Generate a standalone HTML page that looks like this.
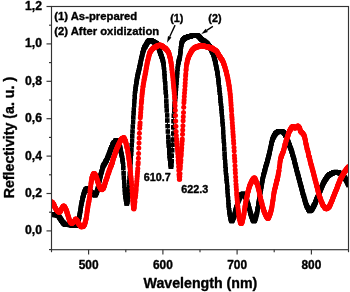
<!DOCTYPE html>
<html lang="en"><head><meta charset="utf-8"><title>Reflectivity spectra</title>
<style>html,body{margin:0;padding:0;background:#fff}body{width:350px;height:292px;overflow:hidden}svg{display:block;will-change:transform;filter:blur(0.38px)}</style></head>
<body>
<svg width="350" height="292" viewBox="0 0 350 292">
<defs>
<marker id="sq" markerWidth="5" markerHeight="5" refX="2.5" refY="2.5" markerUnits="userSpaceOnUse"><rect x="0.2" y="0.2" width="4.6" height="4.6" fill="#000"/></marker>
<marker id="ci" markerWidth="6" markerHeight="6" refX="3" refY="3" markerUnits="userSpaceOnUse"><circle cx="3" cy="3" r="2.5" fill="#f00"/></marker>
<clipPath id="plot"><rect x="52" y="7" width="296.5" height="242.5"/></clipPath>
</defs>
<rect width="350" height="292" fill="#fff"/>
<g clip-path="url(#plot)" fill="none" stroke-linejoin="round">
<polyline stroke="#000" stroke-width="1" marker-start="url(#sq)" marker-mid="url(#sq)" marker-end="url(#sq)" points="51.5,214.7 51.8,214.8 52,214.7 52.3,214.5 52.6,214.6 52.9,214.5 53.1,214.8 53.4,215 53.7,214.7 53.9,214.7 54.2,214.9 54.5,214.9 54.7,214.9 55,214.7 55.3,214.9 55.6,215.1 55.8,214.8 56.1,215 56.4,214.7 56.6,214.9 56.9,214.9 57.2,215.2 57.4,215.1 57.7,215.4 58,215.6 58.3,215.8 58.5,215.7 58.8,216.4 59.1,216.9 59.3,217.3 59.6,217.5 59.9,218 60.1,218.3 60.4,218.7 60.7,219.5 61,219.5 61.2,220.1 61.5,220.7 61.8,220.8 62,221.3 62.3,221.7 62.6,222 62.8,222.1 63.1,222.6 63.4,223.2 63.7,222.9 63.9,223.7 64.2,223.8 64.5,223.9 64.7,224.5 65,224.4 65.3,224.1 65.5,224.4 65.8,224.5 66.1,224.4 66.4,224.6 66.6,224.5 66.9,224.7 67.2,224.9 67.4,224.5 67.7,224.7 68,224.6 68.2,224.7 68.5,224.5 68.8,224.6 69.1,224.7 69.3,224.9 69.6,225 69.9,224.6 70.1,224.7 70.4,225 70.7,224.6 70.9,224.9 71.2,225 71.5,225.3 71.8,225.3 72,225.2 72.3,225.3 72.6,225.4 72.8,225.8 73.1,225.5 73.4,225.6 73.6,225.8 73.9,225.7 74.2,225.8 74.5,225.6 74.7,225.8 75,225.7 75.3,225.9 75.5,225.7 75.8,225.5 76.1,225.5 76.3,225.2 76.6,225.3 76.9,224.8 77.2,224.4 77.4,223.4 77.7,222.9 78,221.8 78.2,220.9 78.5,220.2 78.8,218.9 79,217.8 79.3,216.8 79.6,214.9 79.9,213.5 80.1,212.2 80.4,210.6 80.7,208.7 80.9,206.9 81.2,205.4 81.5,203.8 81.7,202.1 82,201 82.3,199.8 82.6,198.4 82.8,197.5 83.1,196.2 83.4,195.6 83.6,194.6 83.9,193.8 84.2,192.8 84.4,192.1 84.7,191.1 85,190.6 85.3,190.4 85.5,189.6 85.8,189.8 86.1,189.1 86.3,189.3 86.6,188.8 86.9,188.9 87.1,188.7 87.4,188.4 87.7,189 88,189.2 88.2,189.2 88.5,189.4 88.8,189.7 89,189.9 89.3,190.5 89.6,190.5 89.8,190.8 90.1,191 90.4,191.3 90.7,191.4 90.9,192.2 91.2,192.2 91.5,192.7 91.7,192.8 92,192.9 92.3,193.2 92.5,193.4 92.8,193.7 93.1,193.9 93.4,194.1 93.6,194.1 93.9,194.4 94.2,195.1 94.4,194.8 94.7,194.8 95,195.1 95.2,195.2 95.5,194.4 95.8,194.3 96.1,193.7 96.3,192.9 96.6,192.7 96.9,191.8 97.1,191.1 97.4,190.2 97.7,189.5 97.9,188.2 98.2,187 98.5,185.3 98.8,183.8 99,182.7 99.3,180.9 99.6,179.8 99.8,178.5 100.1,177.3 100.4,176.2 100.6,175.3 100.9,174 101.2,173 101.5,172 101.7,171.2 102,170.1 102.3,169 102.5,167.9 102.8,166.9 103.1,166.5 103.3,165.9 103.6,165.2 103.9,164.8 104.2,164.4 104.4,164 104.7,163.5 105,162.8 105.2,162.7 105.5,161.7 105.8,161.6 106,161 106.3,160.6 106.6,160.3 106.9,159.7 107.1,158.7 107.4,158 107.7,157.8 107.9,156.8 108.2,156.3 108.5,155.7 108.7,154.6 109,153.7 109.3,153.4 109.6,152.6 109.8,151.8 110.1,151.1 110.4,150.3 110.6,149.5 110.9,149.1 111.2,148.2 111.4,147.4 111.7,147.1 112,146.3 112.3,145.7 112.5,144.8 112.8,144.3 113.1,143.7 113.3,143.2 113.6,143 113.9,142.5 114.1,142.4 114.4,142 114.7,142 115,141.1 115.2,141.3 115.5,140.8 115.8,140.6 116,140.2 116.3,140.3 116.6,140.4 116.8,140.3 117.1,140.5 117.4,140.7 117.7,141.3 117.9,141.6 118.2,141.8 118.5,142.6 118.7,143 119,143.4 119.3,144.6 119.5,145.8 119.8,146.6 120.1,147.5 120.4,148.8 120.6,150.5 120.9,151.6 121.2,152.9 121.4,154.2 121.7,155.5 122,157 122.2,158.5 122.5,160.1 122.8,161.9 123.1,164.6 123.3,168.1 123.6,173.2 123.9,177.6 124.1,181.8 124.4,185.7 124.7,189.2 124.9,192.9 125.2,195.3 125.5,197.1 125.8,199.3 126,201 126.3,201.8 126.6,203.3 126.8,203.5 127.1,203 127.4,201.7 127.6,200.1 127.9,198.1 128.2,196.2 128.5,193.6 128.7,190.2 129,186.5 129.3,182 129.5,178.1 129.8,173.8 130.1,170.3 130.3,166.1 130.6,162 130.9,158 131.2,153.9 131.4,149.7 131.7,145.2 132,140.6 132.2,136 132.5,131.5 132.8,126.6 133,122 133.3,117.5 133.6,113.2 133.9,109.5 134.1,105.2 134.4,101 134.7,97.1 134.9,93.6 135.2,91.1 135.5,88.9 135.7,86.6 136,84.8 136.3,83 136.6,81.5 136.8,79.6 137.1,78.3 137.4,76.8 137.6,75.8 137.9,74.2 138.2,73.1 138.4,72.1 138.7,70.6 139,69.3 139.3,68.3 139.5,67.1 139.8,65.7 140.1,64.7 140.3,63.8 140.6,62.1 140.9,60.8 141.1,59.4 141.4,58.3 141.7,56.8 142,55.6 142.2,54.9 142.5,53.3 142.8,52.6 143,51.7 143.3,50.6 143.6,49.8 143.8,49.3 144.1,48.3 144.4,47.6 144.7,47 144.9,46.8 145.2,46.6 145.5,46.1 145.7,45.3 146,44.8 146.3,44.4 146.5,44.1 146.8,43.5 147.1,43 147.4,42.6 147.6,42.1 147.9,41.8 148.2,41.5 148.4,41.1 148.7,40.9 149,40.9 149.2,40.6 149.5,40.5 149.8,40.2 150.1,40.6 150.3,40.2 150.6,40.3 150.9,40.8 151.1,40.8 151.4,40.7 151.7,40.5 151.9,40.9 152.2,41 152.5,41.4 152.8,41.8 153,41.6 153.3,41.6 153.6,41.7 153.8,42 154.1,42.1 154.4,42 154.6,42.4 154.9,42.3 155.2,42.8 155.5,42.9 155.7,43.1 156,43 156.3,43.3 156.5,43.4 156.8,43.6 157.1,44 157.3,44.3 157.6,44.8 157.9,45.9 158.2,46.4 158.4,47.2 158.7,48.2 159,48.5 159.2,49.5 159.5,50.5 159.8,51.4 160,52.1 160.3,53.1 160.6,53.7 160.9,54.2 161.1,54.9 161.4,56 161.7,56.7 161.9,57 162.2,58.5 162.5,59.3 162.7,60.5 163,61.4 163.3,62.8 163.6,64.3 163.8,67.2 164.1,69.6 164.4,73.2 164.6,76.3 164.9,80 165.2,83.4 165.4,87.7 165.7,92.3 166,96.4 166.3,101.4 166.5,105.8 166.8,110.4 167.1,115.4 167.3,120.5 167.6,126 167.9,131.5 168.1,136.8 168.4,141.5 168.7,145.5 169,149.2 169.2,152.8 169.5,156.1 169.8,158.5 170,161.4 170.3,163.4 170.6,165.1 170.8,166.9 171.1,166.7 171.4,165 171.7,161.1 171.9,155.7 172.2,150.2 172.5,144.7 172.7,139.6 173,133.5 173.3,127.3 173.5,121.2 173.8,115.8 174.1,111.1 174.4,106.9 174.6,103.9 174.9,101.2 175.2,99.3 175.4,96.4 175.7,93.2 176,88.9 176.2,85.4 176.5,82.7 176.8,79.7 177.1,75.7 177.3,72.1 177.6,68.8 177.9,66.1 178.1,64.5 178.4,62.8 178.7,61.6 178.9,60.7 179.2,59.4 179.5,58.5 179.8,57 180,55.4 180.3,53.3 180.6,51.3 180.8,48.3 181.1,46.4 181.4,44.7 181.6,43.3 181.9,42.3 182.2,41.9 182.5,40.7 182.7,40.1 183,39.8 183.3,39.4 183.5,39.5 183.8,39.2 184.1,38.7 184.3,38.4 184.6,38.4 184.9,38.6 185.2,37.6 185.4,38.1 185.7,37.6 186,37.9 186.2,37.4 186.5,37.4 186.8,37 187,37 187.3,37.3 187.6,37.1 187.9,36.8 188.1,36.6 188.4,36.4 188.7,36.6 188.9,36.5 189.2,36.5 189.5,36.4 189.7,36.1 190,36.3 190.3,36.2 190.6,36.4 190.8,36.4 191.1,36 191.4,35.8 191.6,35.9 191.9,35.8 192.2,35.7 192.4,35.8 192.7,35.6 193,35.9 193.3,35.7 193.5,35.8 193.8,35.7 194.1,35.6 194.3,35.5 194.6,35.6 194.9,35.6 195.1,35.7 195.4,35.6 195.7,35.4 196,35.6 196.2,35.4 196.5,35.5 196.8,35.5 197,35.2 197.3,35.6 197.6,35.7 197.8,35.8 198.1,35.9 198.4,36.1 198.7,36.2 198.9,36.6 199.2,36.8 199.5,37.3 199.7,37.3 200,37.9 200.3,38.2 200.5,38.4 200.8,38.7 201.1,39.1 201.4,39 201.6,39.6 201.9,39.7 202.2,39.9 202.4,40.2 202.7,40.2 203,40.4 203.2,40.8 203.5,40.9 203.8,41.1 204.1,40.9 204.3,41.5 204.6,41.8 204.9,41.9 205.1,42 205.4,41.9 205.7,42.5 205.9,42.5 206.2,42.3 206.5,43.1 206.8,43 207,43.3 207.3,43.6 207.6,44.3 207.8,44.3 208.1,44.7 208.4,45.3 208.6,45.6 208.9,45.6 209.2,46 209.5,46.2 209.7,46.7 210,47.4 210.3,47.8 210.5,48.3 210.8,48.9 211.1,49.1 211.3,49.8 211.6,50.5 211.9,51.1 212.2,51.8 212.4,52.3 212.7,52.8 213,53.6 213.2,54.1 213.5,54.8 213.8,56.1 214,56.9 214.3,58 214.6,58.7 214.9,60 215.1,61.1 215.4,62.3 215.7,63.3 215.9,64.9 216.2,66.5 216.5,67.7 216.7,69 217,70.7 217.3,72.5 217.6,73.6 217.8,75.9 218.1,77.9 218.4,79.9 218.6,82.2 218.9,84.5 219.2,87.1 219.4,89.9 219.7,92.8 220,95.3 220.3,98 220.5,100.7 220.8,103.5 221.1,105.7 221.3,108.4 221.6,111.2 221.9,114.4 222.1,117.4 222.4,121.2 222.7,124.5 223,128.6 223.2,132.6 223.5,136.9 223.8,141 224,144.6 224.3,149.1 224.6,153.7 224.8,157.8 225.1,161.7 225.4,165.8 225.7,169.2 225.9,172.4 226.2,175.3 226.5,178.5 226.7,181.3 227,184.7 227.3,187.6 227.5,191.2 227.8,195.1 228.1,198.5 228.4,202.2 228.6,205.3 228.9,207.7 229.2,210.3 229.4,212.4 229.7,214.5 230,215.9 230.2,217.1 230.5,218.3 230.8,219.4 231.1,220.2 231.3,220.4 231.6,220.8 231.9,221.2 232.1,220.7 232.4,220.2 232.7,219.9 232.9,219.4 233.2,218.5 233.5,217.7 233.8,217.1 234,216.7 234.3,215.5 234.6,214.6 234.8,213.6 235.1,212.5 235.4,211.3 235.6,210.4 235.9,209.1 236.2,208.3 236.5,207.3 236.7,206.7 237,205.5 237.3,204.4 237.5,203.6 237.8,202.7 238.1,201.9 238.3,200.7 238.6,200 238.9,199.3 239.2,199.2 239.4,198.3 239.7,197.6 240,197.2 240.2,196.9 240.5,196 240.8,195.5 241,195.3 241.3,194.8 241.6,194.5 241.9,194 242.1,194.3 242.4,194.1 242.7,193.9 242.9,194 243.2,193.7 243.5,194.4 243.7,194.5 244,194.9 244.3,195.3 244.6,195.5 244.8,195.6 245.1,196.4 245.4,196.6 245.6,197.2 245.9,197.7 246.2,198.3 246.4,198.7 246.7,200.2 247,200.9 247.3,201.9 247.5,203 247.8,203.6 248.1,204.2 248.3,205.3 248.6,206.1 248.9,207.2 249.1,208.3 249.4,208.9 249.7,210.4 250,211.1 250.2,212.5 250.5,213.4 250.8,214.3 251,215.2 251.3,215.9 251.6,216.6 251.8,217 252.1,217.9 252.4,218.9 252.7,219.5 252.9,220 253.2,220.3 253.5,220.5 253.7,221.1 254,221 254.3,220.9 254.5,220.6 254.8,220.2 255.1,219.4 255.4,218.7 255.6,217.6 255.9,216.7 256.2,216.2 256.4,214.7 256.7,213.7 257,212.6 257.2,211.2 257.5,209.4 257.8,208 258.1,206.5 258.3,204.7 258.6,202.9 258.9,201.5 259.1,199.5 259.4,198 259.7,196.4 259.9,195.1 260.2,192.9 260.5,191.5 260.8,189.9 261,188.5 261.3,186.8 261.6,185.4 261.8,183.3 262.1,182.2 262.4,180.6 262.6,179.1 262.9,178 263.2,176.5 263.5,175.1 263.7,174.3 264,173 264.3,172.1 264.5,171.2 264.8,170.2 265.1,169.5 265.3,168.2 265.6,167 265.9,166.2 266.2,165.2 266.4,164.2 266.7,163.6 267,162.4 267.2,161.2 267.5,160.6 267.8,159.4 268,158.5 268.3,157.4 268.6,156.5 268.9,155.3 269.1,154.4 269.4,153.2 269.7,152.1 269.9,150.9 270.2,149.3 270.5,148.2 270.7,146.8 271,145.5 271.3,143.9 271.6,143.2 271.8,141.9 272.1,140.8 272.4,139.9 272.6,139.3 272.9,138.6 273.2,137.8 273.4,137.3 273.7,136.6 274,136.3 274.3,135.5 274.5,135.1 274.8,134.9 275.1,134.7 275.3,133.7 275.6,133.5 275.9,133.2 276.1,133.2 276.4,132.7 276.7,132.6 277,132.5 277.2,132.2 277.5,132 277.8,131.9 278,131.5 278.3,131.5 278.6,131.5 278.8,131.5 279.1,131.4 279.4,131 279.7,131.2 279.9,131.4 280.2,131.3 280.5,131.2 280.7,131.1 281,131.4 281.3,131.2 281.5,131.2 281.8,131.3 282.1,131.8 282.4,131.7 282.6,132 282.9,131.8 283.2,132.2 283.4,132.1 283.7,132.3 284,133.1 284.2,133.1 284.5,133.3 284.8,133.8 285.1,134.4 285.3,135.2 285.6,135.5 285.9,135.9 286.1,136.9 286.4,137.6 286.7,138.3 286.9,139.1 287.2,139.5 287.5,140.2 287.8,140.5 288,141.6 288.3,142.4 288.6,142.9 288.8,143.5 289.1,144.2 289.4,145.2 289.6,145.4 289.9,146.3 290.2,147.2 290.5,148 290.7,148.6 291,149.5 291.3,150.2 291.5,151.1 291.8,151.9 292.1,152.6 292.3,153.7 292.6,154.8 292.9,155.4 293.2,156.5 293.4,157.6 293.7,158.3 294,159.5 294.2,160.3 294.5,161.7 294.8,163 295,164 295.3,164.6 295.6,165.8 295.9,166.8 296.1,167.8 296.4,169.1 296.7,169.7 296.9,171.1 297.2,172 297.5,173.3 297.7,174.1 298,174.9 298.3,176.1 298.6,177.2 298.8,178.1 299.1,179.2 299.4,180.1 299.6,180.8 299.9,182.4 300.2,183.4 300.4,184.4 300.7,185.4 301,186.6 301.3,187.4 301.5,188.3 301.8,189.4 302.1,190.7 302.3,191.2 302.6,192.7 302.9,193.3 303.1,194.2 303.4,195.5 303.7,196.2 304,196.9 304.2,198 304.5,199.2 304.8,200.2 305,200.8 305.3,201.9 305.6,202.8 305.8,203.4 306.1,204.4 306.4,205.1 306.7,205.7 306.9,206.3 307.2,206.9 307.5,207.4 307.7,207.8 308,208.4 308.3,209.1 308.5,209.4 308.8,209.9 309.1,210.4 309.4,210.5 309.6,211.1 309.9,210.6 310.2,210.9 310.4,210.7 310.7,210.9 311,210.7 311.2,209.7 311.5,209.6 311.8,209.5 312.1,209.1 312.3,208.6 312.6,208 312.9,207.7 313.1,207.2 313.4,206.6 313.7,206.4 313.9,205.3 314.2,205.3 314.5,204.5 314.8,204.2 315,203.4 315.3,202.6 315.6,202.2 315.8,201.3 316.1,200.6 316.4,199.8 316.6,199.4 316.9,198.8 317.2,198.2 317.5,197.3 317.7,196.9 318,196.1 318.3,195.4 318.5,194.9 318.8,194.3 319.1,193.4 319.3,192.8 319.6,192.1 319.9,191.5 320.2,190.6 320.4,190.3 320.7,189.3 321,188.8 321.2,187.9 321.5,187.5 321.8,186.8 322,186 322.3,185.9 322.6,184.9 322.9,184.6 323.1,183.9 323.4,183 323.7,182.6 323.9,182.2 324.2,181.7 324.5,181.2 324.7,180.7 325,180 325.3,179.9 325.6,179.1 325.8,179.2 326.1,178.6 326.4,178.2 326.6,177.9 326.9,177.6 327.2,177 327.4,176.6 327.7,176.3 328,175.8 328.3,175.7 328.5,175.9 328.8,175.1 329.1,175.2 329.3,174.6 329.6,174.6 329.9,174.3 330.1,174.2 330.4,174.1 330.7,174.2 331,173.8 331.2,173.7 331.5,173.3 331.8,173.5 332,173.2 332.3,173.3 332.6,173 332.8,173.2 333.1,172.4 333.4,172.6 333.7,172.8 333.9,172.5 334.2,172.3 334.5,172.3 334.7,172.1 335,172.3 335.3,172.6 335.5,172.4 335.8,171.9 336.1,172 336.4,172 336.6,172.3 336.9,172 337.2,172 337.4,172.4 337.7,172.4 338,172.3 338.2,172.3 338.5,172.3 338.8,172.5 339.1,172.4 339.3,173.1 339.6,173 339.9,173.3 340.1,173.7 340.4,173.7 340.7,173.5 340.9,174 341.2,174.2 341.5,174.1 341.8,174.2 342,174.6 342.3,174.5 342.6,175.4 342.8,175 343.1,175.5 343.4,176 343.6,176.3 343.9,176.8 344.2,177.2 344.5,177.5 344.7,178.1 345,177.9 345.3,178.7 345.5,179 345.8,179.6 346.1,180.1 346.3,180.3 346.6,180.9 346.9,181.7 347.2,182.1 347.4,182.5 347.7,183.6 348,184.2 348.2,184.1 348.5,185.1"/>
<polyline stroke="#f00" stroke-width="1" marker-start="url(#ci)" marker-mid="url(#ci)" marker-end="url(#ci)" points="51.5,202.4 51.7,202 51.9,202.1 52.1,202.1 52.3,202.2 52.5,202.6 52.7,202.7 52.9,203.4 53.1,203.4 53.3,203.7 53.6,203.8 53.8,204.6 54,204.8 54.2,205.4 54.4,206.2 54.6,206.5 54.8,207 55,207.3 55.2,207.7 55.4,208 55.6,208.3 55.8,209 56,208.8 56.2,209.8 56.4,209.7 56.6,209.7 56.8,210 57,210.2 57.2,210.7 57.4,210.7 57.7,211.5 57.9,211.1 58.1,210.8 58.3,211.4 58.5,211.2 58.7,211.9 58.9,212.3 59.1,212.2 59.3,211.5 59.5,211.6 59.7,212.2 59.9,211.6 60.1,211.2 60.3,211.2 60.5,211.3 60.7,210.6 60.9,209.9 61.1,209.6 61.3,209.4 61.5,208.7 61.8,208.3 62,208.3 62.2,207.6 62.4,207.5 62.6,207.2 62.8,207.6 63,206.3 63.2,206.3 63.4,206.1 63.6,206.2 63.8,206.5 64,206.1 64.2,206.2 64.4,206.2 64.6,206.7 64.8,207.5 65,207.7 65.2,207.7 65.4,208.3 65.6,208.8 65.9,209.4 66.1,209.6 66.3,210.3 66.5,210.4 66.7,211.3 66.9,212.8 67.1,212.1 67.3,213.3 67.5,214.1 67.7,214.6 67.9,215.1 68.1,216 68.3,216.7 68.5,217.4 68.7,217.5 68.9,218.6 69.1,219 69.3,219.7 69.5,220.4 69.7,221 70,221.5 70.2,221.3 70.4,222.1 70.6,222.4 70.8,222.7 71,223 71.2,222.8 71.4,223 71.6,223.4 71.8,222.8 72,223.4 72.2,223.1 72.4,223.1 72.6,222.5 72.8,222.6 73,222.6 73.2,222.7 73.4,222.5 73.6,221.9 73.8,221.6 74.1,221.2 74.3,221.3 74.5,220.8 74.7,220.8 74.9,220.9 75.1,220 75.3,219.3 75.5,219.3 75.7,219 75.9,219.1 76.1,220 76.3,219.8 76.5,219.4 76.7,220.3 76.9,220.7 77.1,220.4 77.3,220.5 77.5,220.9 77.7,221.5 77.9,222.1 78.2,222.8 78.4,223.3 78.6,223.7 78.8,224.1 79,224.2 79.2,223.8 79.4,224.5 79.6,224.9 79.8,224.9 80,225.6 80.2,225.4 80.4,225.4 80.6,226.4 80.8,226.3 81,226.3 81.2,226.7 81.4,226.9 81.6,226.7 81.8,225.9 82,226.5 82.3,226.5 82.5,226.3 82.7,226.6 82.9,226.8 83.1,226.2 83.3,225.8 83.5,226.6 83.7,225.6 83.9,225.1 84.1,225.3 84.3,225.1 84.5,224.4 84.7,224.4 84.9,223.4 85.1,222.6 85.3,222.1 85.5,221.5 85.7,220.2 85.9,219.6 86.1,218.3 86.4,218 86.6,215.5 86.8,214.7 87,212.7 87.2,211.2 87.4,210 87.6,208.7 87.8,207.5 88,206 88.2,204.6 88.4,203.6 88.6,202.8 88.8,201.7 89,200.9 89.2,199.3 89.4,198.1 89.6,196.7 89.8,194.4 90,191.5 90.2,189.2 90.5,186.9 90.7,186.1 90.9,183.7 91.1,182.9 91.3,181.3 91.5,180.4 91.7,179.1 91.9,177.8 92.1,177.2 92.3,176.7 92.5,176.1 92.7,175.4 92.9,175.1 93.1,175.2 93.3,173.7 93.5,174.1 93.7,173.5 93.9,173.7 94.1,173.9 94.3,173.7 94.6,174.1 94.8,173.6 95,174.8 95.2,174.6 95.4,175.4 95.6,175.7 95.8,175.2 96,176.2 96.2,177 96.4,177.9 96.6,178.1 96.8,178.7 97,178.8 97.2,180.3 97.4,181.1 97.6,181.2 97.8,181.8 98,181.9 98.2,183.3 98.4,184.4 98.7,184.4 98.9,185.2 99.1,185.5 99.3,185.6 99.5,186.8 99.7,186.5 99.9,187.2 100.1,187.7 100.3,188.3 100.5,188.5 100.7,188.8 100.9,188.8 101.1,188.9 101.3,189.6 101.5,189.5 101.7,189.4 101.9,189.5 102.1,189.7 102.3,189.1 102.5,189 102.8,188.6 103,188.8 103.2,188.5 103.4,188.5 103.6,187 103.8,186.8 104,186.9 104.2,186 104.4,185.4 104.6,185.5 104.8,184.2 105,183.2 105.2,182.5 105.4,182.4 105.6,181.7 105.8,180.6 106,180.1 106.2,179.9 106.4,179.3 106.6,178.3 106.9,178.1 107.1,177.4 107.3,176 107.5,175.9 107.7,175.5 107.9,174.5 108.1,173.4 108.3,173.3 108.5,173 108.7,172.7 108.9,170.9 109.1,171.8 109.3,170 109.5,170.1 109.7,169.6 109.9,168.9 110.1,168.1 110.3,167.1 110.5,167.2 110.7,166.2 111,165.1 111.2,166.2 111.4,165 111.6,164.8 111.8,163.4 112,163.6 112.2,163 112.4,162.4 112.6,161.3 112.8,160.3 113,160 113.2,158.7 113.4,158.2 113.6,158.1 113.8,157.1 114,156.7 114.2,156 114.4,156 114.6,155.2 114.8,154.1 115.1,154 115.3,152.7 115.5,152.3 115.7,152.1 115.9,150.9 116.1,150.6 116.3,149.8 116.5,149.7 116.7,149.6 116.9,148.3 117.1,148.1 117.3,147.2 117.5,146.6 117.7,146.1 117.9,146.5 118.1,146.3 118.3,145.2 118.5,144.4 118.7,144.4 118.9,143.6 119.2,143.6 119.4,143 119.6,142.6 119.8,142.3 120,141.5 120.2,141.2 120.4,140.4 120.6,140.4 120.8,139.8 121,139.9 121.2,139.3 121.4,139.4 121.6,139.3 121.8,138.5 122,138.5 122.2,138.3 122.4,138.6 122.6,138.8 122.8,138.3 123,137.9 123.3,138.4 123.5,137.4 123.7,138.5 123.9,137.9 124.1,137.5 124.3,139.5 124.5,139.5 124.7,139.1 124.9,139.9 125.1,140.2 125.3,140.8 125.5,140.8 125.7,141.7 125.9,142.8 126.1,143.5 126.3,144.6 126.5,145.1 126.7,146.8 126.9,146.7 127.1,148.1 127.4,148.5 127.6,149.9 127.8,151.9 128,152.5 128.2,154.3 128.4,155.5 128.6,156.5 128.8,158.2 129,159.6 129.2,161.1 129.4,163.1 129.6,164.8 129.8,166.1 130,167.7 130.2,169.8 130.4,171.4 130.6,173.6 130.8,176 131,177.4 131.2,179.4 131.5,181.9 131.7,184.8 131.9,188.2 132.1,191.6 132.3,195 132.5,197.6 132.7,200.2 132.9,202.1 133.1,204.3 133.3,205.8 133.5,208.1 133.7,208.5 133.9,208.9 134.1,207.8 134.3,206.7 134.5,204.4 134.7,202.8 134.9,201.4 135.1,198.1 135.3,197.1 135.6,195.3 135.8,192.9 136,190.9 136.2,188.9 136.4,186 136.6,184 136.8,181.2 137,178.8 137.2,176.3 137.4,173.8 137.6,171.2 137.8,168.4 138,164.6 138.2,162.4 138.4,158.2 138.6,153.5 138.8,148.1 139,143 139.2,138.1 139.4,133.2 139.7,128.2 139.9,125.3 140.1,122.7 140.3,117.8 140.5,115.6 140.7,112.4 140.9,109.3 141.1,107 141.3,103.5 141.5,101.4 141.7,99.4 141.9,96.5 142.1,94.3 142.3,92.5 142.5,90.5 142.7,89.5 142.9,87.1 143.1,86.2 143.3,84.1 143.5,83.4 143.8,81.9 144,79.9 144.2,79.6 144.4,78.1 144.6,77.2 144.8,76.8 145,74.9 145.2,73.8 145.4,73.6 145.6,72 145.8,71.4 146,69.8 146.2,68.3 146.4,67.4 146.6,66.7 146.8,65.5 147,64.1 147.2,63 147.4,61.9 147.6,60.8 147.9,60.6 148.1,59.1 148.3,57.9 148.5,57.3 148.7,56.9 148.9,56.1 149.1,55.1 149.3,54.3 149.5,53.8 149.7,52.7 149.9,52.3 150.1,52.5 150.3,51.6 150.5,51.5 150.7,51.3 150.9,50.8 151.1,50.3 151.3,50.7 151.5,50 151.7,49.4 152,49.6 152.2,49.3 152.4,48.7 152.6,48.8 152.8,48.6 153,47.9 153.2,48.3 153.4,48.2 153.6,48 153.8,47.5 154,47.8 154.2,47.7 154.4,47.7 154.6,47.1 154.8,47.6 155,46.9 155.2,47.1 155.4,47.4 155.6,46.6 155.8,46.6 156.1,47 156.3,46.4 156.5,46.3 156.7,46.4 156.9,46.5 157.1,45.4 157.3,45.7 157.5,45.6 157.7,45.5 157.9,45.5 158.1,45.4 158.3,45.7 158.5,45.2 158.7,45.5 158.9,45.5 159.1,45.1 159.3,45.4 159.5,45.8 159.7,45.4 159.9,45.1 160.2,45.3 160.4,45.1 160.6,45.6 160.8,45.8 161,45.3 161.2,45.6 161.4,46.1 161.6,45.7 161.8,46 162,45.7 162.2,45.8 162.4,46 162.6,47 162.8,46.3 163,46.4 163.2,46.5 163.4,46.7 163.6,47.1 163.8,47.1 164,47.9 164.3,47.5 164.5,48.1 164.7,47.9 164.9,48.2 165.1,47.7 165.3,48.3 165.5,48.6 165.7,48.7 165.9,48.3 166.1,49.5 166.3,49.3 166.5,49.5 166.7,49.7 166.9,50 167.1,50.4 167.3,50.1 167.5,50.5 167.7,51.2 167.9,51.4 168.1,51.6 168.4,51.9 168.6,52.3 168.8,53.1 169,54.1 169.2,54 169.4,55.6 169.6,56.1 169.8,56.5 170,57.7 170.2,57.8 170.4,58.7 170.6,59.8 170.8,61.2 171,62.4 171.2,63.6 171.4,65.3 171.6,66.2 171.8,68.8 172,70 172.2,72.2 172.5,74.3 172.7,76.1 172.9,78.1 173.1,80.3 173.3,82.7 173.5,84.9 173.7,87 173.9,88.7 174.1,91 174.3,93.4 174.5,96.5 174.7,98.5 174.9,102.6 175.1,105.7 175.3,110.2 175.5,115.6 175.7,121.1 175.9,126.2 176.1,131.4 176.3,135.4 176.6,139.1 176.8,141.9 177,143.8 177.2,146.5 177.4,148.4 177.6,151 177.8,153.7 178,157 178.2,160.5 178.4,163 178.6,166.8 178.8,170.5 179,174.4 179.2,176.8 179.4,179.3 179.6,179.3 179.8,176.6 180,173.5 180.2,168.8 180.4,166.1 180.7,162.6 180.9,160 181.1,156 181.3,153.8 181.5,150.4 181.7,147.7 181.9,144.2 182.1,141.3 182.3,138.9 182.5,134.2 182.7,130 182.9,125.7 183.1,120.8 183.3,116.8 183.5,112.4 183.7,107.2 183.9,102.8 184.1,99.9 184.3,96.4 184.5,92.9 184.8,89.7 185,85.9 185.2,83 185.4,79.4 185.6,76.1 185.8,73.7 186,70.2 186.2,68.7 186.4,66.1 186.6,64.5 186.8,63.7 187,63 187.2,61.7 187.4,60.3 187.6,60 187.8,59.7 188,58.4 188.2,57.7 188.4,57.7 188.6,56.9 188.9,56 189.1,55.7 189.3,55.1 189.5,55 189.7,54.5 189.9,54.4 190.1,53.8 190.3,52.7 190.5,53 190.7,52.8 190.9,52.3 191.1,52.1 191.3,51.3 191.5,50.8 191.7,51.2 191.9,50.3 192.1,49.7 192.3,50.4 192.5,49.6 192.7,49.6 193,49 193.2,48.8 193.4,48.7 193.6,48.7 193.8,48.8 194,47.8 194.2,48.6 194.4,47.8 194.6,47.7 194.8,48.1 195,47.7 195.2,47.1 195.4,48.1 195.6,47.1 195.8,47.3 196,47.2 196.2,47.5 196.4,46.8 196.6,47.2 196.8,46.5 197.1,47 197.3,46.3 197.5,46.4 197.7,47 197.9,46.4 198.1,46.3 198.3,46.9 198.5,46.3 198.7,45.9 198.9,46.3 199.1,45.7 199.3,46.4 199.5,46.4 199.7,45.8 199.9,45.7 200.1,46 200.3,45.9 200.5,45.6 200.7,46 200.9,45.2 201.2,45.7 201.4,45.7 201.6,45.7 201.8,45.9 202,45.4 202.2,46 202.4,45.8 202.6,45.6 202.8,45.4 203,45.5 203.2,46 203.4,45.6 203.6,46 203.8,46.3 204,46.4 204.2,46.6 204.4,46 204.6,45.8 204.8,46.5 205,46.4 205.3,46.7 205.5,46.4 205.7,46.8 205.9,46.7 206.1,46.7 206.3,46.7 206.5,46.7 206.7,46.7 206.9,46.7 207.1,47 207.3,46.6 207.5,47.3 207.7,46.8 207.9,47.2 208.1,46.9 208.3,46.9 208.5,47.7 208.7,47 208.9,46.7 209.1,47 209.4,47.2 209.6,48 209.8,47.4 210,47.8 210.2,47.2 210.4,47.7 210.6,47.9 210.8,48.3 211,47.6 211.2,48.1 211.4,48.1 211.6,47.8 211.8,48.2 212,48.2 212.2,47.7 212.4,48.7 212.6,48.8 212.8,48.6 213,48.4 213.2,49.4 213.5,49.1 213.7,49.5 213.9,49.7 214.1,49.2 214.3,49.8 214.5,49.6 214.7,49.8 214.9,49.9 215.1,50.1 215.3,50.6 215.5,50.4 215.7,50.5 215.9,50.6 216.1,51 216.3,50.8 216.5,51.1 216.7,51.5 216.9,51.6 217.1,51.9 217.3,52 217.6,53.1 217.8,53.3 218,53.4 218.2,53.6 218.4,54.7 218.6,54.5 218.8,54.8 219,55.2 219.2,55.6 219.4,56.2 219.6,56.1 219.8,57.1 220,56.4 220.2,57.2 220.4,57 220.6,58.2 220.8,57.8 221,58.2 221.2,58.9 221.4,59.3 221.7,58.9 221.9,59.5 222.1,59.6 222.3,60.4 222.5,60.8 222.7,61.1 222.9,61.4 223.1,62 223.3,62.3 223.5,63.2 223.7,64.1 223.9,63.5 224.1,64.7 224.3,65.2 224.5,66.1 224.7,66.3 224.9,67.2 225.1,67.6 225.3,68.9 225.5,69.4 225.8,70.1 226,71 226.2,71.6 226.4,72 226.6,73.5 226.8,74.2 227,74.9 227.2,76.1 227.4,77 227.6,77.2 227.8,78.2 228,80 228.2,81 228.4,81.4 228.6,82.4 228.8,83.9 229,85.2 229.2,86.3 229.4,88.3 229.6,89.4 229.9,91.1 230.1,93.6 230.3,95 230.5,97.3 230.7,100.1 230.9,102.8 231.1,105.3 231.3,108.4 231.5,111.1 231.7,114.8 231.9,117.3 232.1,119.5 232.3,122.7 232.5,125.7 232.7,128.5 232.9,131.8 233.1,134.6 233.3,137.1 233.5,140.4 233.7,143.4 234,147.4 234.2,151 234.4,155.6 234.6,158.6 234.8,161.6 235,165.7 235.2,169.7 235.4,173.1 235.6,177 235.8,180.8 236,184.3 236.2,187.1 236.4,189.7 236.6,193 236.8,195.2 237,197.7 237.2,199.9 237.4,202.3 237.6,205 237.8,206.3 238.1,208.7 238.3,210.7 238.5,212.1 238.7,213.9 238.9,215 239.1,217.2 239.3,218.4 239.5,219.1 239.7,219.3 239.9,220.2 240.1,221.5 240.3,222.4 240.5,222.5 240.7,223.3 240.9,223 241.1,223.4 241.3,223.5 241.5,223.5 241.7,222.5 241.9,222.8 242.2,222.2 242.4,220.7 242.6,219.8 242.8,219.4 243,218.2 243.2,216.8 243.4,217 243.6,215.8 243.8,214.5 244,214.1 244.2,212.2 244.4,210.6 244.6,209.5 244.8,207.8 245,206.5 245.2,205.5 245.4,203.9 245.6,202.6 245.8,202.1 246,200.6 246.3,199.6 246.5,198.5 246.7,197.6 246.9,197 247.1,195.6 247.3,195.4 247.5,193.6 247.7,193 247.9,191.8 248.1,191.4 248.3,190.8 248.5,190.4 248.7,189 248.9,188.5 249.1,187.7 249.3,186.9 249.5,186.1 249.7,185.9 249.9,184.8 250.1,184.9 250.4,184.3 250.6,183.7 250.8,183.1 251,182.5 251.2,183.1 251.4,181.6 251.6,182.1 251.8,181.3 252,180.6 252.2,179.9 252.4,180.3 252.6,180.1 252.8,178.9 253,178.9 253.2,179 253.4,178.6 253.6,179 253.8,178.1 254,178.4 254.2,177.8 254.5,179 254.7,178.2 254.9,178 255.1,179 255.3,179.3 255.5,180.3 255.7,180 255.9,180.6 256.1,181.3 256.3,182.2 256.5,182.2 256.7,183.1 256.9,183.5 257.1,183.8 257.3,184.5 257.5,185.1 257.7,185.4 257.9,186.8 258.1,186.8 258.3,188.4 258.6,189.3 258.8,189.9 259,190.7 259.2,191.8 259.4,193.1 259.6,194.2 259.8,195 260,196.2 260.2,196.7 260.4,197.8 260.6,198.1 260.8,199.7 261,200.3 261.2,200.9 261.4,202.2 261.6,202.9 261.8,202.6 262,204.3 262.2,204.6 262.4,206.2 262.7,207.5 262.9,207.2 263.1,208.1 263.3,208.7 263.5,209.6 263.7,210.3 263.9,211.1 264.1,211 264.3,212.3 264.5,212 264.7,212.8 264.9,213.6 265.1,213.9 265.3,213.8 265.5,214.4 265.7,214.9 265.9,215.5 266.1,216.3 266.3,215.9 266.5,216.8 266.8,217.2 267,217.4 267.2,217.7 267.4,218.2 267.6,218 267.8,218.2 268,218.2 268.2,218.5 268.4,217.2 268.6,218 268.8,217.2 269,216.8 269.2,216.2 269.4,215.4 269.6,215.3 269.8,214.6 270,214.4 270.2,213.1 270.4,213.3 270.6,212.3 270.9,211.4 271.1,210.6 271.3,209.8 271.5,208.7 271.7,207.9 271.9,206.9 272.1,205.7 272.3,204 272.5,203 272.7,201.5 272.9,200.4 273.1,199.6 273.3,197.8 273.5,196.1 273.7,194.4 273.9,193.2 274.1,191.9 274.3,191.6 274.5,190.1 274.7,189.4 275,188.2 275.2,187.6 275.4,187.1 275.6,185.6 275.8,184.9 276,184 276.2,183.7 276.4,182.4 276.6,181.5 276.8,180.7 277,179.8 277.2,179.6 277.4,179.4 277.6,177.4 277.8,177.1 278,175.9 278.2,174.5 278.4,173.7 278.6,172.6 278.8,171.1 279.1,170.5 279.3,167.6 279.5,166.6 279.7,164.9 279.9,162.9 280.1,161.6 280.3,160.4 280.5,159.1 280.7,158.3 280.9,157.7 281.1,156.1 281.3,156.7 281.5,156.4 281.7,155.5 281.9,155.1 282.1,153.9 282.3,153.8 282.5,153.2 282.7,152.8 282.9,152.7 283.2,151.6 283.4,151.2 283.6,149.9 283.8,149.7 284,148.9 284.2,147.8 284.4,146.9 284.6,146.9 284.8,145.1 285,144.4 285.2,143.7 285.4,143.7 285.6,143.2 285.8,142 286,140.9 286.2,140.3 286.4,140.1 286.6,138.8 286.8,138.9 287,138.3 287.3,137.2 287.5,136.8 287.7,136.2 287.9,135.9 288.1,134.5 288.3,134.6 288.5,133.6 288.7,132.9 288.9,132.7 289.1,132.1 289.3,131.3 289.5,130.6 289.7,130.4 289.9,130.7 290.1,130.5 290.3,129.7 290.5,129.5 290.7,128.6 290.9,128.5 291.1,128.3 291.4,127.5 291.6,127.3 291.8,127.4 292,127 292.2,126.5 292.4,126.9 292.6,126.6 292.8,126.9 293,126.6 293.2,126.6 293.4,126.9 293.6,126.9 293.8,126.9 294,127.2 294.2,127.7 294.4,127.8 294.6,128.2 294.8,127.3 295,127.8 295.2,127.8 295.5,127.9 295.7,127.6 295.9,127.4 296.1,127.7 296.3,127.4 296.5,126.7 296.7,127.4 296.9,127.1 297.1,126.4 297.3,126.7 297.5,126.1 297.7,126.6 297.9,126.1 298.1,126 298.3,126.3 298.5,126.4 298.7,127 298.9,127.4 299.1,127.8 299.3,128 299.6,127.4 299.8,129.1 300,128.9 300.2,130.2 300.4,131 300.6,131.2 300.8,131.5 301,131.9 301.2,132.1 301.4,132.2 301.6,132.3 301.8,132.3 302,133.1 302.2,132.8 302.4,133.3 302.6,133 302.8,133.4 303,133.5 303.2,134 303.4,134.5 303.7,134.7 303.9,134.8 304.1,135.2 304.3,136.4 304.5,136.4 304.7,137.1 304.9,138.5 305.1,139.3 305.3,140.1 305.5,140.8 305.7,142.8 305.9,143.3 306.1,144.4 306.3,145.1 306.5,145.7 306.7,146.6 306.9,148 307.1,148.9 307.3,149.5 307.5,150.1 307.8,150.8 308,152 308.2,152.5 308.4,154 308.6,154.9 308.8,156.3 309,156.5 309.2,156.8 309.4,157.5 309.6,157.5 309.8,159.2 310,160.1 310.2,161.2 310.4,161.9 310.6,162.7 310.8,163.3 311,164.3 311.2,165.3 311.4,165.2 311.6,166.2 311.9,166.7 312.1,168.4 312.3,169.1 312.5,169.7 312.7,169.8 312.9,171 313.1,171.7 313.3,172.5 313.5,173.2 313.7,174.2 313.9,174.7 314.1,175.9 314.3,176.5 314.5,177.1 314.7,177.9 314.9,178.6 315.1,179.9 315.3,180.3 315.5,181.3 315.7,181.9 316,182.4 316.2,184 316.4,184.2 316.6,185.6 316.8,186.3 317,186.5 317.2,187.5 317.4,188.4 317.6,189.1 317.8,189.8 318,191.2 318.2,191.6 318.4,192.6 318.6,193.1 318.8,194 319,194.4 319.2,195.3 319.4,196.2 319.6,196.7 319.8,197.1 320.1,197.6 320.3,198.5 320.5,199.2 320.7,199.6 320.9,200 321.1,200.9 321.3,202.1 321.5,201.8 321.7,202.5 321.9,203 322.1,202.6 322.3,203.9 322.5,204.1 322.7,205.2 322.9,205.1 323.1,205.2 323.3,205.7 323.5,206.1 323.7,206.1 323.9,206.5 324.2,206.3 324.4,206.9 324.6,207.5 324.8,208.1 325,207.9 325.2,207.9 325.4,208.4 325.6,208.5 325.8,208.8 326,208.8 326.2,208.5 326.4,208.7 326.6,208.7 326.8,208.8 327,208.8 327.2,208.4 327.4,207.9 327.6,208.2 327.8,207.6 328,208 328.3,207.8 328.5,206.9 328.7,207.4 328.9,207.1 329.1,206.6 329.3,206.7 329.5,206.4 329.7,205.1 329.9,205.4 330.1,204.9 330.3,204.5 330.5,204.3 330.7,203.4 330.9,203 331.1,202.5 331.3,202.1 331.5,201.8 331.7,200.9 331.9,200.5 332.1,200.5 332.4,199.7 332.6,199.3 332.8,198 333,197.8 333.2,197.3 333.4,196.9 333.6,196.2 333.8,196.1 334,195.2 334.2,194.7 334.4,194.2 334.6,193.9 334.8,193 335,193 335.2,192.3 335.4,191.7 335.6,191.2 335.8,190.8 336,190.4 336.2,189.9 336.5,189.2 336.7,188.8 336.9,188.1 337.1,187.9 337.3,187 337.5,185.8 337.7,186.4 337.9,185.5 338.1,184.6 338.3,184.4 338.5,183.6 338.7,184.1 338.9,183.1 339.1,181.9 339.3,182.1 339.5,181.3 339.7,181.6 339.9,180.2 340.1,179.3 340.3,179.6 340.6,179 340.8,178.6 341,177.6 341.2,178 341.4,178 341.6,176.4 341.8,177 342,176.1 342.2,176.6 342.4,175.7 342.6,175.1 342.8,175.2 343,174.7 343.2,174 343.4,174 343.6,173.3 343.8,172.6 344,173.5 344.2,172.4 344.4,172 344.7,172 344.9,171 345.1,170.8 345.3,170.8 345.5,170.5 345.7,170.4 345.9,170.4 346.1,169.6 346.3,169.7 346.5,169.4 346.7,168.6 346.9,168.8 347.1,168.2 347.3,168.5 347.5,168.1 347.7,167.7 347.9,167.1 348.1,167.3 348.3,166.8 348.5,167.1"/>
</g>
<g stroke="#333" stroke-width="1.15" fill="none">
<rect x="51.5" y="6.5" width="297" height="243.2"/>
<line x1="49" x2="51.5" y1="249.6" y2="249.6"/>
<line x1="46.5" x2="51.5" y1="230.9" y2="230.9"/>
<line x1="49" x2="51.5" y1="212.2" y2="212.2"/>
<line x1="46.5" x2="51.5" y1="193.5" y2="193.5"/>
<line x1="49" x2="51.5" y1="174.8" y2="174.8"/>
<line x1="46.5" x2="51.5" y1="156.1" y2="156.1"/>
<line x1="49" x2="51.5" y1="137.4" y2="137.4"/>
<line x1="46.5" x2="51.5" y1="118.7" y2="118.7"/>
<line x1="49" x2="51.5" y1="100" y2="100"/>
<line x1="46.5" x2="51.5" y1="81.3" y2="81.3"/>
<line x1="49" x2="51.5" y1="62.6" y2="62.6"/>
<line x1="46.5" x2="51.5" y1="43.9" y2="43.9"/>
<line x1="49" x2="51.5" y1="25.2" y2="25.2"/>
<line x1="46.5" x2="51.5" y1="6.5" y2="6.5"/>
<line y1="249.7" y2="252.2" x1="51.5" x2="51.5"/>
<line y1="249.7" y2="254.6" x1="88.6" x2="88.6"/>
<line y1="249.7" y2="252.2" x1="125.8" x2="125.8"/>
<line y1="249.7" y2="254.6" x1="162.9" x2="162.9"/>
<line y1="249.7" y2="252.2" x1="200" x2="200"/>
<line y1="249.7" y2="254.6" x1="237.1" x2="237.1"/>
<line y1="249.7" y2="252.2" x1="274.2" x2="274.2"/>
<line y1="249.7" y2="254.6" x1="311.4" x2="311.4"/>
<line y1="249.7" y2="252.2" x1="348.5" x2="348.5"/>
</g>
<g font-family="&quot;Liberation Sans&quot;, sans-serif" font-weight="bold" fill="#000" stroke="#000" stroke-width="0.35" stroke-linejoin="round" font-size="12.2" text-anchor="end">
<text x="42" y="234.4">0,0</text>
<text x="42" y="197">0,2</text>
<text x="42" y="159.6">0,4</text>
<text x="42" y="122.2">0,6</text>
<text x="42" y="84.8">0,8</text>
<text x="42" y="47.4">1,0</text>
<text x="42" y="10">1,2</text>
</g>
<g font-family="&quot;Liberation Sans&quot;, sans-serif" font-weight="bold" fill="#000" stroke="#000" stroke-width="0.35" stroke-linejoin="round" font-size="11.9" text-anchor="middle">
<text x="88.6" y="268.8">500</text>
<text x="162.9" y="268.8">600</text>
<text x="237.1" y="268.8">700</text>
<text x="311.4" y="268.8">800</text>
</g>
<text font-family="&quot;Liberation Sans&quot;, sans-serif" font-weight="bold" fill="#000" stroke="#000" stroke-width="0.35" stroke-linejoin="round" font-size="14.2" text-anchor="middle" x="200.4" y="287.6">Wavelength (nm)</text>
<text font-family="&quot;Liberation Sans&quot;, sans-serif" font-weight="bold" fill="#000" stroke="#000" stroke-width="0.35" stroke-linejoin="round" font-size="14.2" text-anchor="middle" transform="translate(13.6 137.6) rotate(-90)">Reflectivity (a. u. )</text>
<g font-family="&quot;Liberation Sans&quot;, sans-serif" font-weight="bold" fill="#000" stroke="#000" stroke-width="0.35" stroke-linejoin="round" font-size="11.3">
<text x="54.2" y="20.4">(1) As-prepared</text>
<text x="54.2" y="34.7">(2) After oxidization</text>
</g>
<g font-family="&quot;Liberation Sans&quot;, sans-serif" font-weight="bold" fill="#000" stroke="#000" stroke-width="0.35" stroke-linejoin="round" font-size="10.8">
<text x="170.2" y="22.1">(1)</text>
<text x="208.3" y="22.1">(2)</text>
<text x="143.7" y="180.9">610.7</text>
<text x="181.2" y="193.3">622.3</text>
</g>
<line x1="175.1" y1="25.1" x2="169.7" y2="36.8" stroke="#000" stroke-width="1.35"/><polygon fill="#000" points="167,42.7 168,36 171.4,37.6"/>
<line x1="212.9" y1="26.4" x2="206.7" y2="30.4" stroke="#000" stroke-width="1.35"/><polygon fill="#000" points="201.3,34 205.7,28.8 207.8,32"/>
</svg>
</body></html>
